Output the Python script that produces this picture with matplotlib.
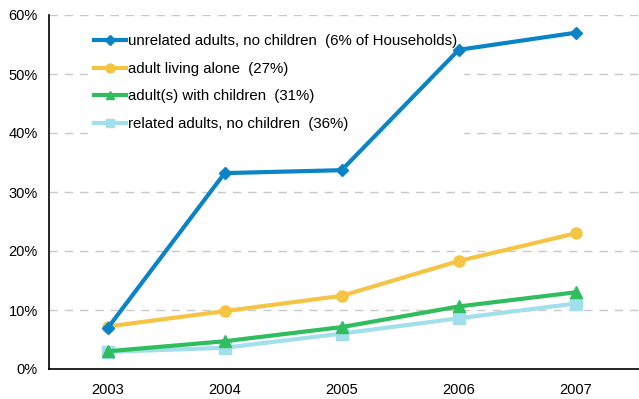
import matplotlib
matplotlib.use("Agg")
import matplotlib.pyplot as plt
from matplotlib.ticker import FuncFormatter

plt.rcParams['font.family'] = ['Liberation Sans', 'DejaVu Sans']

years = ["2003", "2004", "2005", "2006", "2007"]
unrelated = [6.9, 33.2, 33.7, 54.1, 57.0]
alone = [7.2, 9.8, 12.4, 18.3, 23.0]
with_children = [3.0, 4.7, 7.1, 10.6, 13.0]
related = [2.9, 3.6, 6.0, 8.6, 11.1]

labels = ["unrelated adults, no children  (6% of Households)",
          "adult living alone  (27%)",
          "adult(s) with children  (31%)",
          "related adults, no children  (36%)"]

fig = plt.figure(figsize=(6.39, 3.99), dpi=100)
ax = fig.add_axes([49/639, 30/399, 1 - 49/639, 354/399])

x = range(len(years))
ax.plot(x, unrelated, color='#0a84c6', lw=3, marker='D', ms=6, label=labels[0], zorder=5)
ax.plot(x, alone, color='#f6c445', lw=3, marker='o', ms=8, label=labels[1], zorder=4)
ax.plot(x, with_children, color='#2fbd5e', lw=3, marker='^', ms=8, label=labels[2], zorder=3)
ax.plot(x, related, color='#a2dfec', lw=3, marker='s', ms=8, label=labels[3], zorder=2)

ax.set_xlim(-0.5, 4.54)
ax.set_ylim(0, 60)
ax.set_yticks(range(0, 61, 10))
ax.yaxis.set_major_formatter(FuncFormatter(lambda v, p: f"{int(v)}%"))
ax.set_xticks(list(x))
ax.set_xticklabels(years)
for y in range(10, 61, 10):
    ax.axhline(y, color='#c8c8c8', lw=1, ls=(0, (6, 5)), zorder=0)

for s in ['top', 'right']:
    ax.spines[s].set_visible(False)
ax.spines['left'].set_linewidth(1.2)
ax.spines['bottom'].set_linewidth(1.2)
ax.tick_params(axis='y', length=0, labelsize=10.5, pad=8)
ax.tick_params(axis='x', length=0, labelsize=10.5, pad=10)

leg = ax.legend(loc='upper left', bbox_to_anchor=(0.066, 0.962), frameon=True,
                fontsize=10.8, handlelength=2.15, labelspacing=0.9,
                handletextpad=0.1, borderaxespad=0, markerscale=0.8)
leg.get_frame().set_edgecolor('white')
leg.get_frame().set_facecolor('white')
leg.get_frame().set_alpha(1)
leg.set_zorder(1)

fig.savefig("out.png", dpi=100)
